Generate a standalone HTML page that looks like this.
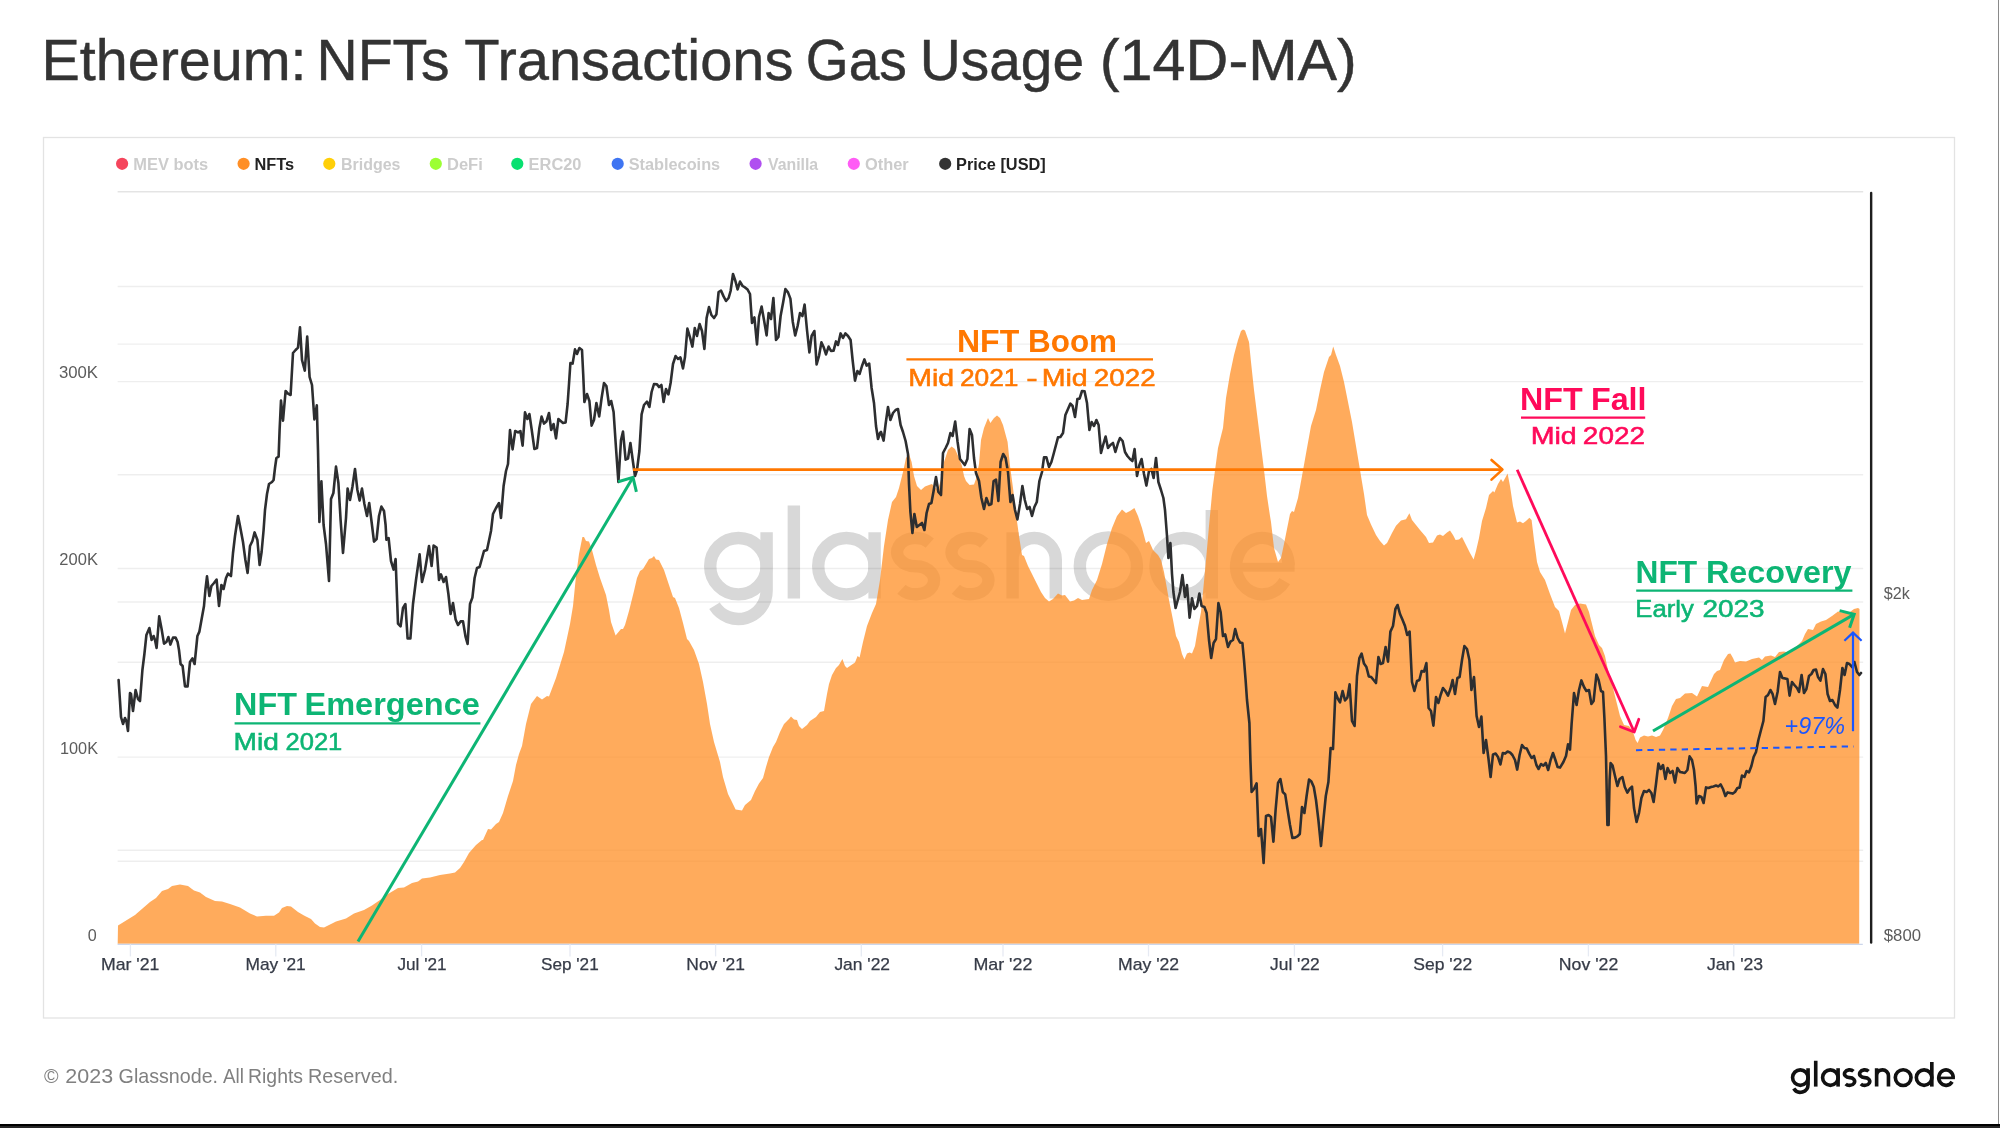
<!DOCTYPE html>
<html><head><meta charset="utf-8"><title>Ethereum: NFTs Transactions Gas Usage (14D-MA)</title>
<style>
html,body{margin:0;padding:0;background:#fff;}
body{width:2000px;height:1128px;overflow:hidden;font-family:"Liberation Sans", sans-serif;}
svg{display:block;position:absolute;left:0;top:0;will-change:transform;}
text{font-family:"Liberation Sans", sans-serif;}
</style></head><body>
<svg width="2000" height="1128" viewBox="0 0 2000 1128">
<rect x="0" y="0" width="2000" height="1128" fill="#ffffff"/>
<rect x="43.5" y="137.5" width="1911" height="880.5" fill="#ffffff" stroke="#e3e3e3" stroke-width="1.3"/>
<circle cx="122.1" cy="163.8" r="6.1" fill="#f5455c"/><circle cx="243.6" cy="163.8" r="6.1" fill="#ff8f26"/><circle cx="329.3" cy="163.8" r="6.1" fill="#ffcf08"/><circle cx="435.8" cy="163.8" r="6.1" fill="#9cff33"/><circle cx="517.3" cy="163.8" r="6.1" fill="#08e070"/><circle cx="617.7" cy="163.8" r="6.1" fill="#3f75f2"/><circle cx="755.6" cy="163.8" r="6.1" fill="#b04ff0"/><circle cx="853.8" cy="163.8" r="6.1" fill="#ff5cf5"/><circle cx="945.2" cy="163.8" r="6.1" fill="#333333"/><g transform="translate(704,598.5) scale(0.6680)" fill="none" stroke="#d8d8d8" stroke-width="18.6" stroke-linecap="butt" stroke-linejoin="round" opacity="1"><circle cx="51.5" cy="-48.4" r="42.20"/><path d="M93.7,-99 V-11.5 A42.20,42.20 0 0 1 15.71,10.86"/><path d="M134.5,-139.2 V0"/><circle cx="213.2" cy="-48.4" r="42.20"/><path d="M255.39999999999998,-99 V0"/><path d="M337.97,-82.98 A27.7,21.05 0 1 0 316.75,-48.40 A27.7,21.05 0 1 1 295.53,-13.82"/><path d="M419.42,-82.98 A27.7,21.05 0 1 0 398.2,-48.40 A27.7,21.05 0 1 1 376.98,-13.82"/><path d="M462.0,-99 V0 M462.0,-58.20 a32.30,32.30 0 0 1 64.60,0 V0"/><circle cx="605.4" cy="-48.4" r="42.80"/><circle cx="718" cy="-48.4" r="42.20"/><path d="M760.2,-132.5 V0"/><path d="M875.35,-49.69 A39.35,42.20 0 1 0 869.37,-26.04" /><path d="M796.65,-46.9 H884.15" stroke-width="13.39"/></g>
<line x1="117.6" x2="1863.2" y1="191.76" y2="191.76" stroke="#000000" stroke-opacity="0.105" stroke-width="1.4"/><line x1="117.6" x2="1863.2" y1="286.56" y2="286.56" stroke="#000000" stroke-opacity="0.068" stroke-width="1.4"/><line x1="117.6" x2="1863.2" y1="344.16" y2="344.16" stroke="#000000" stroke-opacity="0.068" stroke-width="1.4"/><line x1="117.6" x2="1863.2" y1="381.6" y2="381.6" stroke="#000000" stroke-opacity="0.068" stroke-width="1.4"/><line x1="117.6" x2="1863.2" y1="474.8" y2="474.8" stroke="#000000" stroke-opacity="0.068" stroke-width="1.4"/><line x1="117.6" x2="1863.2" y1="568.56" y2="568.56" stroke="#000000" stroke-opacity="0.068" stroke-width="1.4"/><line x1="117.6" x2="1863.2" y1="602.0" y2="602.0" stroke="#000000" stroke-opacity="0.068" stroke-width="1.4"/><line x1="117.6" x2="1863.2" y1="662.2" y2="662.2" stroke="#000000" stroke-opacity="0.068" stroke-width="1.4"/><line x1="117.6" x2="1863.2" y1="757.12" y2="757.12" stroke="#000000" stroke-opacity="0.068" stroke-width="1.4"/><line x1="117.6" x2="1863.2" y1="850.3" y2="850.3" stroke="#000000" stroke-opacity="0.068" stroke-width="1.4"/><line x1="117.6" x2="1863.2" y1="861.2" y2="861.2" stroke="#000000" stroke-opacity="0.068" stroke-width="1.4"/>
<polygon points="117.7,943.8 118.0,925.4 135.0,915.0 150.0,902.0 156.0,898.0 162.0,891.0 168.0,889.0 172.0,886.0 180.0,884.4 188.0,886.0 194.0,890.6 200.0,892.4 206.0,897.0 215.0,901.0 222.0,901.6 230.0,904.0 240.0,907.4 250.0,913.6 257.0,916.4 266.0,915.8 274.0,915.8 279.0,912.4 282.0,908.0 287.0,906.0 291.0,906.6 298.0,912.0 304.0,915.4 311.0,919.0 315.0,923.6 320.0,927.0 324.0,927.4 336.0,921.4 346.0,918.6 354.0,913.6 364.0,910.0 372.0,905.6 380.0,900.0 388.0,894.0 398.0,888.0 404.0,887.6 412.0,883.0 418.0,881.4 422.0,878.4 430.0,877.4 440.0,875.0 450.0,873.6 455.0,872.4 460.0,868.0 464.0,862.0 469.0,853.0 476.0,845.0 482.0,840.0 483.0,840.0 488.0,829.0 491.0,829.4 496.0,824.0 499.0,822.0 503.0,813.0 508.0,796.0 513.0,781.0 516.0,765.0 519.0,754.0 522.0,746.0 526.0,724.0 531.0,704.0 537.0,696.0 542.0,699.4 547.0,696.0 549.0,696.4 556.0,678.0 564.0,652.0 570.0,624.0 573.0,606.0 576.0,576.0 579.0,554.0 582.4,537.0 584.0,537.0 586.0,541.0 589.0,541.6 592.0,550.0 596.0,565.0 600.0,578.0 606.0,595.0 609.0,610.0 611.0,622.0 615.6,635.6 621.0,629.0 623.0,629.0 625.0,625.0 629.0,611.0 634.0,591.0 637.0,578.0 640.0,571.0 643.0,569.0 649.0,559.0 652.0,558.0 654.0,556.0 656.0,559.4 659.0,560.0 664.0,570.0 669.0,585.0 673.0,597.0 675.0,598.0 679.0,608.0 683.0,623.0 687.0,639.0 689.0,641.0 694.0,650.0 699.0,664.0 703.0,682.0 707.0,704.0 710.0,724.0 714.0,742.0 720.0,762.0 723.0,777.0 728.0,794.0 731.0,800.0 735.6,809.6 742.0,810.6 745.0,805.0 748.0,802.4 751.0,800.0 755.0,791.0 759.0,783.6 763.0,778.0 766.0,767.0 769.0,757.0 773.0,747.0 776.0,742.0 780.0,732.0 784.0,724.0 789.0,719.0 791.0,716.4 794.0,719.6 797.0,720.0 799.0,726.0 802.0,729.0 807.0,725.0 810.0,721.0 816.0,717.0 820.0,712.0 824.0,711.0 827.0,694.0 829.0,684.0 832.0,675.0 836.0,668.0 839.0,665.0 842.4,659.0 845.0,666.0 847.0,668.0 855.0,662.4 857.6,656.0 859.6,657.6 863.0,642.0 867.0,626.0 872.0,613.0 876.0,604.0 880.0,580.0 884.0,546.0 888.0,520.0 892.0,502.0 896.0,497.0 899.0,488.0 903.0,472.0 906.0,458.0 909.0,454.0 911.6,462.0 914.0,476.0 917.0,486.0 921.0,490.0 925.0,486.4 929.0,485.0 932.0,484.0 935.0,488.0 938.0,489.0 941.0,480.0 944.0,462.0 948.0,450.0 951.6,446.4 955.0,449.0 959.0,458.0 962.0,466.0 964.0,476.0 966.0,481.0 969.6,485.0 974.0,484.4 976.0,479.0 979.0,464.0 981.0,440.0 984.0,428.0 988.0,418.0 990.4,423.0 994.0,418.0 997.0,415.6 1000.0,418.0 1003.0,425.0 1007.6,442.0 1010.0,466.0 1013.0,488.0 1016.0,514.0 1019.0,536.0 1022.0,555.0 1024.0,556.0 1028.0,566.0 1032.0,574.0 1037.0,584.0 1041.0,592.0 1045.0,598.0 1049.0,601.6 1053.0,599.0 1058.0,593.6 1062.0,595.6 1065.0,595.0 1070.0,601.6 1074.0,600.6 1078.0,598.0 1082.0,600.0 1089.0,599.0 1092.0,590.0 1097.0,580.0 1102.0,564.0 1107.0,544.0 1112.0,528.0 1117.0,516.0 1122.0,509.6 1126.0,513.0 1130.0,511.0 1134.4,508.0 1138.0,516.0 1142.0,528.0 1146.0,543.0 1149.0,541.0 1153.0,550.0 1158.0,555.0 1161.0,560.0 1164.0,572.0 1169.0,600.0 1173.0,620.0 1176.0,636.0 1179.0,642.0 1182.0,654.0 1184.4,659.6 1187.0,653.6 1189.6,652.4 1192.0,653.6 1195.0,646.0 1198.0,628.0 1201.0,612.0 1203.0,592.0 1206.0,560.0 1209.0,526.0 1212.4,490.0 1218.0,448.0 1223.0,428.0 1226.0,398.0 1230.0,374.0 1234.0,355.0 1238.0,340.0 1241.0,331.0 1243.0,329.4 1245.0,330.6 1249.0,342.0 1251.0,362.0 1254.0,390.0 1258.0,422.0 1261.0,446.0 1264.0,470.0 1267.0,496.0 1270.0,516.0 1271.0,522.0 1274.0,548.0 1278.0,562.0 1281.0,558.0 1284.0,544.0 1288.0,524.0 1290.0,514.0 1292.0,511.0 1294.0,512.0 1298.0,498.0 1302.0,476.0 1307.0,448.0 1311.0,426.0 1316.0,410.0 1320.0,390.0 1324.0,372.0 1329.0,357.0 1331.0,355.0 1333.2,346.4 1336.0,355.0 1340.0,366.0 1344.0,382.0 1348.0,402.0 1352.0,422.0 1356.0,446.0 1360.0,470.0 1364.0,494.0 1367.0,515.0 1371.0,524.5 1376.0,535.0 1380.0,541.0 1384.0,545.6 1387.0,543.0 1392.0,533.0 1396.0,525.8 1401.0,520.5 1406.0,519.3 1409.4,513.3 1412.0,520.0 1416.0,525.0 1420.0,530.0 1426.0,537.0 1429.0,543.0 1433.0,542.4 1437.0,535.6 1440.0,534.4 1443.0,536.0 1447.0,532.4 1450.0,530.4 1453.0,535.0 1455.6,540.0 1459.0,539.6 1462.0,537.0 1466.0,545.0 1470.0,553.0 1473.6,559.6 1476.0,551.0 1479.0,538.0 1482.0,521.0 1486.0,508.0 1489.0,495.0 1493.0,491.0 1494.4,492.4 1498.0,484.0 1501.0,479.0 1503.0,482.0 1507.6,473.6 1510.0,486.0 1513.0,506.0 1517.0,522.5 1520.0,521.5 1523.0,523.3 1526.0,521.0 1529.4,517.8 1531.6,520.0 1534.0,540.0 1537.0,562.0 1540.0,572.0 1545.0,580.0 1550.0,594.0 1555.0,607.0 1559.0,611.0 1562.0,622.0 1565.0,633.6 1568.0,622.0 1571.0,610.0 1575.0,605.0 1580.0,603.6 1586.0,604.4 1589.0,612.0 1592.0,624.0 1595.0,636.0 1599.0,645.0 1602.0,648.0 1605.0,656.0 1608.0,670.0 1612.0,684.0 1616.0,700.0 1620.0,716.0 1624.0,725.0 1629.0,726.0 1633.0,732.0 1635.6,740.0 1637.6,743.0 1640.0,737.6 1644.0,735.6 1648.0,736.4 1652.0,735.6 1656.0,737.0 1660.0,735.6 1663.0,730.0 1668.0,718.0 1672.0,706.0 1676.0,699.0 1680.0,698.0 1685.0,693.6 1692.0,693.0 1697.0,696.4 1702.0,686.0 1708.0,687.0 1714.0,674.0 1717.0,671.0 1720.0,670.0 1724.0,660.0 1728.0,654.0 1730.4,653.6 1733.0,658.0 1735.0,662.4 1740.0,661.0 1746.0,661.4 1752.0,659.0 1759.0,657.6 1762.0,660.0 1765.0,656.4 1771.0,655.6 1775.0,657.0 1779.0,652.0 1784.0,651.4 1790.0,653.0 1796.0,647.0 1802.0,641.0 1805.0,634.0 1808.0,629.0 1813.0,630.0 1816.0,624.0 1821.0,621.6 1826.0,620.0 1832.0,616.0 1838.0,611.6 1844.0,613.0 1850.0,612.0 1854.0,609.0 1858.0,608.0 1859.5,609.0 1859.2,943.8" fill="#ff8f26" fill-opacity="0.75"/>
<line x1="117.6" x2="1862.8" y1="944.3" y2="944.3" stroke="#ccd6eb" stroke-width="1.3"/>
<line x1="130.4" x2="130.4" y1="944.3" y2="956.4" stroke="#e6eaf3" stroke-width="1.3"/><line x1="275.8" x2="275.8" y1="944.3" y2="956.4" stroke="#e6eaf3" stroke-width="1.3"/><line x1="421.6" x2="421.6" y1="944.3" y2="956.4" stroke="#e6eaf3" stroke-width="1.3"/><line x1="570.0" x2="570.0" y1="944.3" y2="956.4" stroke="#e6eaf3" stroke-width="1.3"/><line x1="715.6" x2="715.6" y1="944.3" y2="956.4" stroke="#e6eaf3" stroke-width="1.3"/><line x1="861.3" x2="861.3" y1="944.3" y2="956.4" stroke="#e6eaf3" stroke-width="1.3"/><line x1="1003.0" x2="1003.0" y1="944.3" y2="956.4" stroke="#e6eaf3" stroke-width="1.3"/><line x1="1148.5" x2="1148.5" y1="944.3" y2="956.4" stroke="#e6eaf3" stroke-width="1.3"/><line x1="1294.4" x2="1294.4" y1="944.3" y2="956.4" stroke="#e6eaf3" stroke-width="1.3"/><line x1="1442.6" x2="1442.6" y1="944.3" y2="956.4" stroke="#e6eaf3" stroke-width="1.3"/><line x1="1588.4" x2="1588.4" y1="944.3" y2="956.4" stroke="#e6eaf3" stroke-width="1.3"/><line x1="1733.8" x2="1733.8" y1="944.3" y2="956.4" stroke="#e6eaf3" stroke-width="1.3"/><line x1="1871.15" x2="1871.15" y1="193" y2="942.6" stroke="#1e1e1e" stroke-width="2.4" stroke-linecap="round"/><polyline points="118.6,680.0 120.0,701.0 121.0,717.0 123.0,724.0 125.0,718.0 126.4,721.0 128.0,731.0 130.0,693.0 131.0,694.0 133.0,711.0 135.6,690.0 138.0,699.0 140.0,701.0 142.4,670.0 144.4,654.0 146.4,635.0 149.4,628.0 151.6,640.0 153.6,636.0 155.0,640.0 156.6,648.0 159.2,616.4 161.6,629.0 164.0,643.6 166.4,642.0 168.4,637.0 170.4,644.6 173.0,637.6 175.6,637.6 177.6,642.0 179.0,650.0 180.6,664.0 182.6,666.0 185.0,686.4 187.6,686.4 190.0,662.0 192.4,658.4 194.6,664.0 197.4,636.0 199.4,631.6 202.0,617.0 204.0,606.0 205.4,590.0 207.0,576.4 209.4,596.0 211.4,586.0 214.0,583.0 216.6,579.6 219.0,606.0 221.4,585.0 223.6,589.0 226.0,578.0 228.0,573.6 231.0,576.0 233.0,553.0 235.0,536.0 238.0,516.0 240.0,526.0 243.0,542.0 245.4,560.0 247.6,573.0 250.0,546.0 252.4,541.0 254.6,532.4 257.4,540.0 259.6,565.0 261.6,552.0 263.6,530.0 265.0,510.0 267.0,494.0 269.0,484.0 272.0,482.0 273.6,480.0 275.0,468.0 276.4,458.0 278.6,456.6 279.6,430.0 281.0,400.6 283.0,420.6 285.6,391.0 288.0,393.6 290.6,395.0 293.0,353.0 295.6,350.0 298.0,347.6 300.0,327.4 302.0,360.0 304.8,370.6 307.2,336.6 309.6,377.0 312.0,385.0 314.4,419.4 316.8,405.4 318.0,450.0 319.4,522.0 321.4,481.4 323.6,525.0 326.0,544.0 329.0,581.0 331.0,499.0 333.4,493.0 336.0,466.6 338.4,483.0 340.6,520.0 343.0,553.0 346.0,518.0 347.6,488.6 350.0,500.0 352.4,487.0 355.0,469.0 357.4,490.0 359.6,500.6 362.0,488.6 364.4,504.0 367.0,516.0 369.2,503.0 371.6,522.0 374.0,541.6 376.6,539.0 379.0,516.0 381.4,506.6 384.0,511.0 385.6,525.0 386.4,539.6 388.6,538.0 391.0,561.0 393.6,569.6 395.6,559.0 398.0,623.6 400.6,626.4 403.0,608.0 405.4,604.0 407.6,638.4 410.4,638.4 413.0,604.0 416.0,580.0 419.6,554.4 422.0,582.0 425.0,570.0 429.0,546.0 431.6,566.0 433.6,545.6 436.6,547.6 439.0,580.0 441.0,574.4 443.6,582.0 446.0,577.0 448.4,594.0 450.6,614.0 453.0,603.0 455.6,619.4 458.0,625.0 460.6,621.4 463.0,621.4 465.6,637.0 467.6,644.0 470.0,604.0 472.4,597.6 474.6,578.0 477.0,568.0 479.6,567.0 484.0,551.0 487.0,550.0 491.0,531.0 493.0,514.0 496.0,508.0 499.0,503.0 501.0,518.0 503.6,486.0 506.0,471.0 508.0,464.0 510.0,430.0 512.6,449.4 515.2,431.0 518.0,432.4 520.4,431.0 522.6,445.6 525.0,412.4 527.4,419.0 529.4,414.0 531.6,429.0 534.4,449.0 537.0,448.0 539.4,428.0 541.6,416.6 544.0,423.6 546.4,421.6 549.0,413.0 551.2,430.0 553.6,424.0 556.0,438.4 558.4,419.0 563.0,423.0 565.6,422.4 567.6,404.0 569.0,384.0 570.4,363.0 572.6,363.6 575.0,349.4 577.0,354.0 579.4,348.0 582.0,350.0 583.2,374.0 584.4,402.0 587.0,394.0 589.4,401.0 591.6,425.6 594.0,420.0 596.4,403.0 599.2,416.4 601.6,398.0 604.0,383.0 606.4,386.0 609.0,405.0 611.2,401.0 613.6,412.0 616.0,448.0 618.4,482.0 621.0,440.0 623.0,431.6 625.6,459.6 628.0,458.6 630.4,443.0 633.0,462.0 635.0,476.0 637.0,470.0 639.4,451.0 641.6,414.4 644.0,405.0 647.0,401.6 649.4,407.0 651.6,392.0 654.0,384.0 657.0,384.4 659.0,387.0 661.4,385.0 663.6,402.0 666.0,389.0 668.4,394.4 670.6,383.0 673.0,364.0 675.6,356.0 678.0,359.0 680.4,357.4 683.0,368.4 685.0,357.0 687.4,328.6 690.0,337.4 692.4,346.6 694.8,328.0 697.0,336.0 699.6,324.0 702.0,331.0 704.4,349.0 706.6,318.0 709.0,307.0 711.4,315.0 714.0,318.0 716.4,314.4 718.6,292.0 721.0,290.6 723.6,296.4 726.0,301.0 728.6,298.0 730.6,291.0 733.0,274.0 735.4,281.0 737.6,289.4 740.0,281.6 742.6,286.0 745.0,287.4 747.6,289.6 750.0,294.0 752.0,323.0 754.4,317.4 757.0,344.4 759.0,317.0 761.6,306.6 764.0,320.0 766.6,335.4 768.6,313.0 771.0,319.0 773.4,298.0 776.0,340.0 778.4,337.0 780.6,316.0 783.2,302.0 785.4,289.0 788.0,292.4 790.4,298.6 792.8,322.0 795.2,335.4 797.6,326.0 800.0,313.0 802.4,316.0 804.6,304.6 807.0,330.0 809.4,352.4 811.6,336.0 814.4,331.0 816.6,364.4 819.0,356.0 821.4,342.4 823.6,347.0 826.0,354.4 828.6,346.6 831.0,351.0 833.6,350.6 836.0,341.4 838.0,345.0 840.6,333.4 843.0,338.0 845.4,333.4 848.0,336.0 850.6,340.0 852.6,360.0 855.0,380.6 857.4,371.0 859.6,374.0 862.0,366.0 864.4,359.4 866.6,365.6 869.2,363.6 871.6,388.0 874.0,403.0 876.0,426.0 878.0,439.0 880.0,433.0 881.0,432.0 883.6,440.6 885.6,424.0 888.0,407.0 890.4,420.0 893.0,413.0 895.6,410.0 898.0,409.0 900.6,425.0 903.0,432.0 905.6,441.0 908.0,454.0 909.0,484.0 910.4,512.0 912.4,533.0 914.4,514.0 916.8,527.0 919.4,525.0 922.0,523.0 924.4,530.0 926.6,513.0 929.0,504.0 931.4,503.0 933.6,491.0 936.0,477.0 938.4,492.0 941.0,495.0 943.0,453.0 945.6,448.0 948.0,443.0 950.4,433.0 952.6,436.0 955.2,421.6 957.6,442.0 960.0,459.0 962.4,462.0 964.8,465.0 967.4,459.0 969.6,429.0 972.0,435.0 974.0,458.0 976.0,473.0 979.0,481.0 981.4,498.0 984.0,509.0 986.4,498.0 989.0,505.0 991.4,504.0 993.6,481.0 996.0,479.6 998.4,501.0 1000.6,462.0 1003.2,454.0 1005.6,458.0 1008.0,472.0 1010.4,502.0 1012.6,495.0 1015.0,510.0 1017.4,519.4 1020.0,504.0 1022.4,486.0 1024.8,500.0 1027.2,509.0 1029.6,507.0 1032.0,516.0 1034.4,507.0 1036.8,502.0 1039.4,481.0 1042.0,472.0 1044.0,457.4 1046.4,457.4 1049.0,467.0 1051.4,462.0 1053.6,454.0 1058.0,437.4 1060.4,437.0 1063.0,433.0 1065.4,415.0 1068.0,409.0 1070.4,403.6 1072.6,406.0 1075.0,417.0 1077.4,399.0 1079.6,398.6 1082.0,391.0 1084.6,391.4 1087.0,403.0 1089.4,430.0 1091.6,422.0 1094.0,426.0 1096.4,420.0 1098.6,425.0 1101.0,453.0 1103.4,444.0 1105.6,436.6 1108.0,448.0 1110.4,445.0 1113.0,443.0 1115.4,452.0 1118.0,443.0 1120.0,438.0 1122.6,441.0 1125.0,452.0 1127.4,456.0 1130.0,459.0 1132.4,461.0 1134.6,449.0 1137.0,476.0 1139.4,465.0 1141.6,459.0 1144.0,474.0 1146.4,485.6 1149.0,471.0 1151.4,469.0 1153.6,478.0 1156.0,458.0 1158.4,482.0 1161.0,490.0 1163.4,498.0 1165.0,510.0 1167.0,536.0 1168.4,558.0 1170.4,543.0 1172.0,574.0 1173.4,592.0 1175.6,608.0 1180.0,592.0 1182.4,575.0 1185.0,597.0 1187.0,585.0 1189.6,617.6 1192.0,598.4 1194.4,609.0 1197.0,606.0 1199.4,593.6 1201.6,606.0 1204.4,607.0 1206.6,613.0 1209.0,640.0 1211.2,658.0 1213.6,643.0 1216.0,639.0 1218.4,603.0 1220.6,612.0 1223.0,636.0 1225.2,634.4 1228.0,647.0 1230.4,641.6 1233.0,640.0 1235.2,629.0 1237.6,638.0 1240.0,642.4 1242.4,643.0 1244.0,660.0 1245.6,680.0 1247.0,700.0 1249.4,723.0 1250.4,760.0 1251.6,792.0 1254.0,789.0 1256.6,783.4 1258.6,836.0 1261.0,829.0 1263.6,863.0 1266.0,816.0 1268.6,815.0 1271.0,817.0 1273.4,841.6 1275.6,810.0 1278.0,783.0 1280.4,779.0 1282.8,792.0 1285.2,794.4 1287.6,810.0 1290.0,825.0 1292.4,838.0 1295.0,837.6 1297.4,836.4 1299.8,834.0 1302.0,807.0 1304.4,813.0 1306.6,796.0 1309.0,779.6 1311.4,781.6 1313.8,787.0 1316.0,800.0 1318.4,820.0 1321.0,846.0 1323.4,820.0 1325.8,796.0 1328.4,782.0 1330.6,748.0 1333.0,749.0 1335.4,692.4 1338.0,699.0 1340.0,702.4 1342.6,691.0 1345.0,700.4 1347.4,697.6 1349.6,684.4 1352.0,721.0 1354.6,726.0 1357.0,676.0 1359.4,658.0 1361.6,653.6 1364.0,663.6 1366.4,667.0 1368.8,676.4 1371.2,677.0 1373.6,680.0 1376.0,683.0 1378.4,657.0 1380.6,664.0 1383.0,663.0 1385.6,647.0 1388.0,661.6 1390.4,631.6 1393.0,626.0 1395.4,609.0 1397.6,605.0 1400.0,614.0 1402.4,619.6 1405.0,626.0 1407.2,635.0 1409.6,631.6 1412.0,682.0 1414.4,691.0 1417.0,681.0 1419.4,680.0 1421.6,671.0 1424.0,671.6 1426.4,663.0 1428.6,708.0 1431.0,711.0 1433.4,725.6 1436.0,697.0 1438.4,703.0 1440.6,695.0 1443.0,688.0 1445.4,691.0 1448.0,695.6 1450.4,689.0 1452.6,680.0 1455.0,694.0 1457.4,678.0 1459.6,677.0 1462.0,660.0 1464.4,646.0 1467.0,649.0 1469.4,660.0 1471.4,690.0 1474.0,677.0 1476.6,716.0 1479.0,727.0 1481.4,716.6 1483.6,753.0 1486.0,740.0 1488.4,758.0 1490.6,777.0 1493.0,754.4 1495.6,753.6 1498.0,757.0 1500.4,764.4 1502.8,753.0 1505.2,753.6 1507.6,751.6 1510.0,752.4 1512.4,755.0 1515.0,760.0 1517.2,769.6 1519.6,755.0 1522.0,745.0 1524.4,748.0 1526.8,748.6 1529.2,753.6 1531.6,758.0 1534.0,756.0 1536.4,765.0 1538.6,769.0 1541.0,764.0 1543.4,765.6 1545.8,763.0 1548.2,770.0 1550.6,760.0 1553.0,753.0 1555.4,760.0 1557.6,767.0 1560.0,767.6 1563.4,762.0 1566.0,756.0 1568.0,744.4 1570.0,749.6 1571.6,724.0 1574.0,693.0 1576.6,705.0 1579.0,690.0 1581.4,680.4 1584.0,687.0 1586.4,691.0 1589.0,690.0 1591.4,704.0 1593.6,701.0 1596.4,674.6 1598.6,680.0 1601.0,691.0 1603.0,692.0 1604.4,718.0 1606.0,756.0 1607.4,825.0 1608.6,825.0 1609.6,780.0 1610.6,763.0 1612.6,765.6 1615.0,776.0 1617.4,786.0 1619.6,779.0 1622.4,777.0 1624.8,787.0 1627.4,792.6 1629.6,789.0 1632.0,786.6 1634.0,808.0 1636.6,822.0 1639.0,813.0 1641.4,798.0 1644.0,791.0 1646.6,792.0 1649.0,790.0 1651.4,793.0 1653.6,802.0 1656.0,784.0 1658.4,763.6 1660.6,769.0 1663.0,765.0 1665.4,779.0 1667.6,768.0 1670.0,773.0 1672.6,771.0 1675.0,782.6 1677.4,768.0 1680.0,772.0 1682.4,772.4 1684.8,773.0 1687.4,770.0 1689.6,756.4 1692.0,760.0 1694.0,770.0 1695.6,786.0 1696.6,803.4 1699.0,796.0 1701.4,797.0 1703.6,803.0 1706.0,787.4 1708.6,788.0 1711.0,787.0 1713.4,786.4 1716.0,785.6 1718.4,786.4 1720.6,784.4 1723.0,789.0 1725.4,796.0 1727.6,792.4 1730.0,793.0 1732.6,793.6 1735.0,792.0 1737.4,788.0 1739.6,787.6 1742.0,775.6 1744.4,777.0 1746.6,771.0 1749.0,772.4 1751.4,766.0 1753.6,757.0 1756.0,752.0 1758.4,740.0 1761.0,730.0 1763.4,721.0 1765.6,697.0 1768.0,695.0 1770.4,690.0 1772.6,694.0 1775.0,704.0 1777.6,692.0 1780.0,672.0 1782.4,678.0 1785.0,678.4 1787.4,679.0 1789.6,695.6 1792.0,682.0 1794.4,685.0 1797.0,688.0 1799.0,692.0 1801.6,675.0 1804.0,693.0 1806.4,689.0 1809.0,676.0 1811.4,674.0 1813.6,670.0 1816.0,669.6 1818.0,677.0 1820.4,680.6 1823.0,669.0 1825.4,674.0 1827.6,694.0 1830.0,701.0 1832.4,700.0 1835.0,705.0 1837.4,707.6 1840.0,690.0 1842.4,668.0 1844.6,675.0 1847.0,663.0 1849.4,664.0 1852.0,667.0 1854.4,662.0 1857.0,672.0 1859.4,675.0 1861.0,673.0" fill="none" stroke="#2d2e30" stroke-width="2.6" stroke-linejoin="round" stroke-linecap="round"/>
<g stroke="#0db574" stroke-width="3" fill="none" stroke-linecap="butt" stroke-linejoin="miter"><line x1="358" y1="941.5" x2="632.6" y2="478"/><polyline points="618.2,481.8 633,477.4 636.4,491.8"/></g>
<g stroke="#ff7700" stroke-width="2.6" fill="none" stroke-linecap="round" stroke-linejoin="round"><line x1="633" y1="469.6" x2="1502" y2="469.6" stroke-linecap="butt"/><polyline points="1491.5,460 1502.4,469.6 1491.5,479.6"/></g>
<g stroke="#ff0a5a" stroke-width="2.8" fill="none" stroke-linecap="round" stroke-linejoin="round"><line x1="1517.2" y1="469.8" x2="1634" y2="731.5" stroke-linecap="butt"/><polyline points="1620.4,726.8 1634.2,732 1638.8,719.2"/></g>
<g stroke="#0db574" stroke-width="3" fill="none" stroke-linecap="butt" stroke-linejoin="miter"><line x1="1653" y1="731" x2="1853.6" y2="614.6"/><polyline points="1839.6,610.6 1854.2,614.2 1849.6,627.8"/></g>
<g stroke="#1a56ff" stroke-width="2.2" fill="none" stroke-linecap="butt" stroke-linejoin="miter"><line x1="1636" y1="750.2" x2="1853.6" y2="746.4" stroke-dasharray="6.3 5.13" stroke-width="2"/><line x1="1853" y1="731.2" x2="1853" y2="633.5"/><polyline points="1844.4,640.8 1853,632.6 1861.6,640.8"/></g><line x1="234.6" x2="480.4" y1="723.4" y2="723.4" stroke="#0db574" stroke-width="2.2"/>
<line x1="906.4" x2="1153" y1="359.4" y2="359.4" stroke="#ff7700" stroke-width="2.2"/>
<line x1="1521" x2="1645.2" y1="417.6" y2="417.6" stroke="#ff0a5a" stroke-width="2.2"/>
<line x1="1636.2" x2="1852.4" y1="590.6" y2="590.6" stroke="#0db574" stroke-width="2.2"/>
<g transform="translate(1790.75,1086.6) scale(0.1857)" fill="none" stroke="#111111" stroke-width="19.5" stroke-linecap="butt" stroke-linejoin="round" opacity="1"><circle cx="51.5" cy="-48.4" r="41.75"/><path d="M93.25,-99 V-11.5 A41.75,41.75 0 0 1 16.09,10.62"/><path d="M134.5,-139.2 V0"/><circle cx="213.2" cy="-48.4" r="41.75"/><path d="M254.95,-99 V0"/><path d="M337.62,-82.61 A27.25,20.82 0 1 0 316.75,-48.40 A27.25,20.82 0 1 1 295.88,-14.19"/><path d="M419.07,-82.61 A27.25,20.82 0 1 0 398.2,-48.40 A27.25,20.82 0 1 1 377.33,-14.19"/><path d="M462.45,-99 V0 M462.45,-58.20 a31.85,31.85 0 0 1 63.70,0 V0"/><circle cx="605.4" cy="-48.4" r="42.35"/><circle cx="718" cy="-48.4" r="41.75"/><path d="M759.75,-132.5 V0"/><path d="M874.90,-49.82 A38.90,41.75 0 1 0 868.99,-26.28" /><path d="M797.10,-46.9 H884.15" stroke-width="14.04"/></g>
<text x="41.53" y="80.4" font-size="56.7" font-weight="normal" font-style="normal" fill="#333333" stroke="#333333" stroke-width="0.45" textLength="265.06" lengthAdjust="spacingAndGlyphs">Ethereum:</text>
<text x="316.47" y="80.4" font-size="56.7" font-weight="normal" font-style="normal" fill="#333333" stroke="#333333" stroke-width="0.45" textLength="133.11" lengthAdjust="spacingAndGlyphs">NFTs</text>
<text x="464.28" y="80.4" font-size="56.7" font-weight="normal" font-style="normal" fill="#333333" stroke="#333333" stroke-width="0.45" textLength="329.19" lengthAdjust="spacingAndGlyphs">Transactions</text>
<text x="805.78" y="80.4" font-size="56.7" font-weight="normal" font-style="normal" fill="#333333" stroke="#333333" stroke-width="0.45" textLength="101.13" lengthAdjust="spacingAndGlyphs">Gas</text>
<text x="919.74" y="80.4" font-size="56.7" font-weight="normal" font-style="normal" fill="#333333" stroke="#333333" stroke-width="0.45" textLength="164.4" lengthAdjust="spacingAndGlyphs">Usage</text>
<text x="1099.86" y="80.4" font-size="56.7" font-weight="normal" font-style="normal" fill="#333333" stroke="#333333" stroke-width="0.45" textLength="256.96" lengthAdjust="spacingAndGlyphs">(14D-MA)</text>
<text x="133.27" y="169.5" font-size="16.8" font-weight="bold" font-style="normal" fill="#cccccc"  textLength="74.92" lengthAdjust="spacingAndGlyphs">MEV bots</text>
<text x="254.47" y="169.5" font-size="16.8" font-weight="bold" font-style="normal" fill="#222222"  textLength="39.73" lengthAdjust="spacingAndGlyphs">NFTs</text>
<text x="341.05" y="169.5" font-size="16.8" font-weight="bold" font-style="normal" fill="#cccccc"  textLength="59.41" lengthAdjust="spacingAndGlyphs">Bridges</text>
<text x="447.02" y="169.5" font-size="16.8" font-weight="bold" font-style="normal" fill="#cccccc"  textLength="35.73" lengthAdjust="spacingAndGlyphs">DeFi</text>
<text x="528.62" y="169.5" font-size="16.8" font-weight="bold" font-style="normal" fill="#cccccc"  textLength="52.88" lengthAdjust="spacingAndGlyphs">ERC20</text>
<text x="628.63" y="169.5" font-size="16.8" font-weight="bold" font-style="normal" fill="#cccccc"  textLength="91.57" lengthAdjust="spacingAndGlyphs">Stablecoins</text>
<text x="768.0" y="169.5" font-size="16.8" font-weight="bold" font-style="normal" fill="#cccccc"  textLength="50.16" lengthAdjust="spacingAndGlyphs">Vanilla</text>
<text x="865.02" y="169.5" font-size="16.8" font-weight="bold" font-style="normal" fill="#cccccc"  textLength="43.75" lengthAdjust="spacingAndGlyphs">Other</text>
<text x="956.03" y="169.5" font-size="16.8" font-weight="bold" font-style="normal" fill="#222222"  textLength="89.69" lengthAdjust="spacingAndGlyphs">Price [USD]</text>
<text x="100.94" y="970.1" font-size="16.6" font-weight="normal" font-style="normal" fill="#363b47" stroke="#363b47" stroke-width="0.25" textLength="58.35" lengthAdjust="spacingAndGlyphs">Mar '21</text>
<text x="245.56" y="970.1" font-size="16.6" font-weight="normal" font-style="normal" fill="#363b47" stroke="#363b47" stroke-width="0.25" textLength="60.16" lengthAdjust="spacingAndGlyphs">May '21</text>
<text x="397.5" y="970.1" font-size="16.6" font-weight="normal" font-style="normal" fill="#363b47" stroke="#363b47" stroke-width="0.25" textLength="49.07" lengthAdjust="spacingAndGlyphs">Jul '21</text>
<text x="541.07" y="970.1" font-size="16.6" font-weight="normal" font-style="normal" fill="#363b47" stroke="#363b47" stroke-width="0.25" textLength="57.62" lengthAdjust="spacingAndGlyphs">Sep '21</text>
<text x="686.35" y="970.1" font-size="16.6" font-weight="normal" font-style="normal" fill="#363b47" stroke="#363b47" stroke-width="0.25" textLength="58.54" lengthAdjust="spacingAndGlyphs">Nov '21</text>
<text x="834.4" y="970.1" font-size="16.6" font-weight="normal" font-style="normal" fill="#363b47" stroke="#363b47" stroke-width="0.25" textLength="55.65" lengthAdjust="spacingAndGlyphs">Jan '22</text>
<text x="973.42" y="970.1" font-size="16.6" font-weight="normal" font-style="normal" fill="#363b47" stroke="#363b47" stroke-width="0.25" textLength="58.97" lengthAdjust="spacingAndGlyphs">Mar '22</text>
<text x="1118.04" y="970.1" font-size="16.6" font-weight="normal" font-style="normal" fill="#363b47" stroke="#363b47" stroke-width="0.25" textLength="61.09" lengthAdjust="spacingAndGlyphs">May '22</text>
<text x="1270.1" y="970.1" font-size="16.6" font-weight="normal" font-style="normal" fill="#363b47" stroke="#363b47" stroke-width="0.25" textLength="49.67" lengthAdjust="spacingAndGlyphs">Jul '22</text>
<text x="1413.34" y="970.1" font-size="16.6" font-weight="normal" font-style="normal" fill="#363b47" stroke="#363b47" stroke-width="0.25" textLength="58.86" lengthAdjust="spacingAndGlyphs">Sep '22</text>
<text x="1558.83" y="970.1" font-size="16.6" font-weight="normal" font-style="normal" fill="#363b47" stroke="#363b47" stroke-width="0.25" textLength="59.47" lengthAdjust="spacingAndGlyphs">Nov '22</text>
<text x="1706.9" y="970.1" font-size="16.6" font-weight="normal" font-style="normal" fill="#363b47" stroke="#363b47" stroke-width="0.25" textLength="56.26" lengthAdjust="spacingAndGlyphs">Jan '23</text>
<text x="58.96" y="378.2" font-size="16.1" font-weight="normal" font-style="normal" fill="#5c5c5c"  textLength="39.06" lengthAdjust="spacingAndGlyphs">300K</text>
<text x="59.38" y="565.2" font-size="16.1" font-weight="normal" font-style="normal" fill="#5c5c5c"  textLength="38.53" lengthAdjust="spacingAndGlyphs">200K</text>
<text x="59.99" y="753.9" font-size="16.1" font-weight="normal" font-style="normal" fill="#5c5c5c"  textLength="38.01" lengthAdjust="spacingAndGlyphs">100K</text>
<text x="87.8" y="940.7" font-size="16.1" font-weight="normal" font-style="normal" fill="#5c5c5c"  textLength="8.95" lengthAdjust="spacingAndGlyphs">0</text>
<text x="1883.8" y="598.9" font-size="16.1" font-weight="normal" font-style="normal" fill="#5c5c5c"  textLength="25.95" lengthAdjust="spacingAndGlyphs">$2k</text>
<text x="1883.8" y="940.6" font-size="16.1" font-weight="normal" font-style="normal" fill="#5c5c5c"  textLength="37.25" lengthAdjust="spacingAndGlyphs">$800</text>
<text x="234.08" y="715.4" font-size="32" font-weight="bold" font-style="normal" fill="#0db574"  textLength="62.83" lengthAdjust="spacingAndGlyphs">NFT</text>
<text x="304.47" y="715.4" font-size="32" font-weight="bold" font-style="normal" fill="#0db574"  textLength="175.37" lengthAdjust="spacingAndGlyphs">Emergence</text>
<text x="233.51" y="749.7" font-size="24.5" font-weight="normal" font-style="normal" fill="#0db574" stroke="#0db574" stroke-width="0.55" textLength="45.3" lengthAdjust="spacingAndGlyphs">Mid</text>
<text x="285.46" y="749.7" font-size="24.5" font-weight="normal" font-style="normal" fill="#0db574" stroke="#0db574" stroke-width="0.55" textLength="56.88" lengthAdjust="spacingAndGlyphs">2021</text>
<text x="957.0" y="351.6" font-size="32" font-weight="bold" font-style="normal" fill="#ff7700"  textLength="62.2" lengthAdjust="spacingAndGlyphs">NFT</text>
<text x="1028.04" y="351.6" font-size="32" font-weight="bold" font-style="normal" fill="#ff7700"  textLength="88.99" lengthAdjust="spacingAndGlyphs">Boom</text>
<text x="908.28" y="385.6" font-size="24.5" font-weight="normal" font-style="normal" fill="#ff7700" stroke="#ff7700" stroke-width="0.55" textLength="45.85" lengthAdjust="spacingAndGlyphs">Mid</text>
<text x="959.92" y="385.6" font-size="24.5" font-weight="normal" font-style="normal" fill="#ff7700" stroke="#ff7700" stroke-width="0.55" textLength="58.63" lengthAdjust="spacingAndGlyphs">2021</text>
<text x="1026.2" y="385.6" font-size="24.5" font-weight="normal" font-style="normal" fill="#ff7700" stroke="#ff7700" stroke-width="0.55" textLength="11.44" lengthAdjust="spacingAndGlyphs">-</text>
<text x="1041.67" y="385.6" font-size="24.5" font-weight="normal" font-style="normal" fill="#ff7700" stroke="#ff7700" stroke-width="0.55" textLength="46.07" lengthAdjust="spacingAndGlyphs">Mid</text>
<text x="1093.87" y="385.6" font-size="24.5" font-weight="normal" font-style="normal" fill="#ff7700" stroke="#ff7700" stroke-width="0.55" textLength="61.72" lengthAdjust="spacingAndGlyphs">2022</text>
<text x="1519.99" y="409.6" font-size="32" font-weight="bold" font-style="normal" fill="#ff0a5a"  textLength="62.62" lengthAdjust="spacingAndGlyphs">NFT</text>
<text x="1590.98" y="409.6" font-size="32" font-weight="bold" font-style="normal" fill="#ff0a5a"  textLength="55.56" lengthAdjust="spacingAndGlyphs">Fall</text>
<text x="1530.67" y="444" font-size="24.5" font-weight="normal" font-style="normal" fill="#ff0a5a" stroke="#ff0a5a" stroke-width="0.55" textLength="46.07" lengthAdjust="spacingAndGlyphs">Mid</text>
<text x="1582.86" y="444" font-size="24.5" font-weight="normal" font-style="normal" fill="#ff0a5a" stroke="#ff0a5a" stroke-width="0.55" textLength="62.13" lengthAdjust="spacingAndGlyphs">2022</text>
<text x="1635.62" y="583" font-size="32" font-weight="bold" font-style="normal" fill="#0db574"  textLength="61.58" lengthAdjust="spacingAndGlyphs">NFT</text>
<text x="1705.98" y="583" font-size="32" font-weight="bold" font-style="normal" fill="#0db574"  textLength="145.51" lengthAdjust="spacingAndGlyphs">Recovery</text>
<text x="1635.3" y="617" font-size="24.5" font-weight="normal" font-style="normal" fill="#0db574" stroke="#0db574" stroke-width="0.55" textLength="58.52" lengthAdjust="spacingAndGlyphs">Early</text>
<text x="1702.46" y="617" font-size="24.5" font-weight="normal" font-style="normal" fill="#0db574" stroke="#0db574" stroke-width="0.55" textLength="62.13" lengthAdjust="spacingAndGlyphs">2023</text>
<text x="1784.62" y="733.8" font-size="23.8" font-weight="normal" font-style="italic" fill="#1a56ff"  textLength="60.3" lengthAdjust="spacingAndGlyphs">+97%</text>
<text x="44.0" y="1083" font-size="19.8" font-weight="normal" font-style="normal" fill="#808080"  textLength="14.58" lengthAdjust="spacingAndGlyphs">©</text>
<text x="65.31" y="1083" font-size="19.8" font-weight="normal" font-style="normal" fill="#808080"  textLength="47.79" lengthAdjust="spacingAndGlyphs">2023</text>
<text x="118.61" y="1083" font-size="19.8" font-weight="normal" font-style="normal" fill="#808080"  textLength="99.46" lengthAdjust="spacingAndGlyphs">Glassnode.</text>
<text x="223.0" y="1083" font-size="19.8" font-weight="normal" font-style="normal" fill="#808080"  textLength="20.94" lengthAdjust="spacingAndGlyphs">All</text>
<text x="248.04" y="1083" font-size="19.8" font-weight="normal" font-style="normal" fill="#808080"  textLength="55.04" lengthAdjust="spacingAndGlyphs">Rights</text>
<text x="308.0" y="1083" font-size="19.8" font-weight="normal" font-style="normal" fill="#808080"  textLength="90.16" lengthAdjust="spacingAndGlyphs">Reserved.</text>
<rect x="1998" y="0" width="1" height="1124" fill="#8a8a8a"/><rect x="0" y="1124" width="2000" height="2" fill="#000000"/><rect x="0" y="1126" width="2000" height="2" fill="#262626"/></svg></body></html>
